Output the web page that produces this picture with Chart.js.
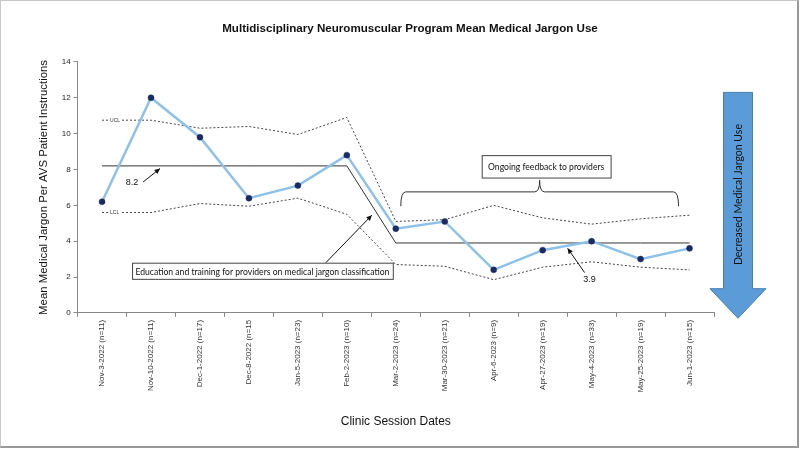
<!DOCTYPE html>
<html lang="en">
<head>
    <meta charset="UTF-8">
    <title>Mean Medical Jargon Use</title>
    <script src="https://cdn.jsdelivr.net/npm/chart.js"></script>
    <style>
        html, body { margin: 0; padding: 0; background: #fff; }
        .wrap { width: 800px; height: 450px; position: relative; }
        canvas { position: absolute; left: 0; top: 0; }
        .frame { position: absolute; left: 0; top: 0; width: 796px; height: 445px;
                 border: 1px solid #c8c8c8; border-right: 2px solid #999; border-bottom: 2px solid #999;
                 pointer-events: none; }
    </style>
</head>
<body>
<div class="wrap">
    <canvas id="jargonChart" width="800" height="450"></canvas>
    <div class="frame"></div>
</div>

<script>
    const sessionDates = [
        "Nov-3-2022 (n=11)", "Nov-10-2022 (n=11)", "Dec-1-2022 (n=17)", "Dec-8-2022 (n=15",
        "Jan-5-2023 (n=23)", "Feb-2-2023 (n=10)", "Mar-2-2023 (n=24)", "Mar-30-2023 (n=21)",
        "Apr-6-2023 (n=9)", "Apr-27-2023 (n=19)", "May-4-2023 (n=33)", "May-25-2023 (n=19)",
        "Jun-1-2023 (n=15)"
    ];
    const meanJargon = [6.2, 12.0, 9.8, 6.4, 7.1, 8.8, 4.7, 5.1, 2.4, 3.5, 4.0, 3.0, 3.6];
    const centerLine = [8.2, 8.2, 8.2, 8.2, 8.2, 8.2, 3.9, 3.9, 3.9, 3.9, 3.9, 3.9, 3.9];
    const upperLimit = [10.75, 10.75, 10.3, 10.4, 9.95, 10.9, 5.1, 5.2, 6.0, 5.3, 4.95, 5.25, 5.45];
    const lowerLimit = [5.6, 5.6, 6.1, 5.95, 6.4, 5.5, 2.7, 2.6, 1.85, 2.55, 2.85, 2.55, 2.4];
    const yTicks = [0, 2, 4, 6, 8, 10, 12, 14];

    // arrow helper for the callouts
    function arrowLine(ctx, x1, y1, x2, y2) {
        ctx.beginPath();
        ctx.moveTo(x1, y1);
        ctx.lineTo(x2, y2);
        ctx.stroke();
        const a = Math.atan2(y2 - y1, x2 - x1);
        ctx.beginPath();
        ctx.moveTo(x2, y2);
        ctx.lineTo(x2 - 6 * Math.cos(a - 0.45), y2 - 6 * Math.sin(a - 0.45));
        ctx.lineTo(x2 - 6 * Math.cos(a + 0.45), y2 - 6 * Math.sin(a + 0.45));
        ctx.closePath();
        ctx.fill();
    }

    const notesPlugin = {
        id: "notes",
        afterDatasetsDraw(chart) {
            const ctx = chart.ctx;
            const xs = chart.scales.x, ys = chart.scales.y;
            const px = i => xs.getPixelForValue(i);
            const py = v => ys.getPixelForValue(v);
            ctx.save();

            // UCL / LCL tags
            ctx.font = "5px 'Liberation Sans', Arial";
            ctx.textBaseline = "middle";
            ctx.textAlign = "left";
            [["UCL", upperLimit[0]], ["LCL", lowerLimit[0]]].forEach(([t, v]) => {
                ctx.fillStyle = "#fff";
                ctx.fillRect(px(0) + 6, py(v) - 3, 14, 6);
                ctx.fillStyle = "#333";
                ctx.fillText(t, px(0) + 8, py(v));
            });

            ctx.strokeStyle = "#111";
            ctx.fillStyle = "#111";
            ctx.lineWidth = 1;

            // 8.2 callout
            ctx.font = "9px 'Liberation Sans', Arial";
            ctx.textAlign = "center";
            ctx.fillText("8.2", px(0) + 30, py(7.25));
            arrowLine(ctx, px(0) + 41, py(7.3), px(1) + 9, py(8.05));

            // 3.9 callout
            ctx.fillText("3.9", px(10) - 2, py(1.85));
            arrowLine(ctx, px(10) - 7, py(2.25), px(10) - 24, py(3.6));

            // education box
            ctx.font = "8.6px Lato, 'Open Sans', sans-serif";
            let bx1 = px(0) + 30, bx2 = px(6) - 3, by1 = py(2.8), by2 = py(1.9);
            ctx.fillStyle = "#fff";
            ctx.fillRect(bx1, by1, bx2 - bx1, by2 - by1);
            ctx.strokeStyle = "#444";
            ctx.strokeRect(bx1 + 0.5, by1 + 0.5, bx2 - bx1, by2 - by1);
            ctx.fillStyle = "#111";
            ctx.fillText("Education and training for providers on medical jargon classification", (bx1 + bx2) / 2, (by1 + by2) / 2 + 1);
            ctx.strokeStyle = "#111";
            arrowLine(ctx, px(5) - 21, by1, px(5) + 25, py(5.45));

            // ongoing feedback box + brace
            bx1 = px(8) - 12; bx2 = px(10) + 19; by1 = py(8.8); by2 = py(7.55);
            ctx.fillStyle = "#fff";
            ctx.fillRect(bx1, by1, bx2 - bx1, by2 - by1);
            ctx.strokeStyle = "#444";
            ctx.strokeRect(bx1 + 0.5, by1 + 0.5, bx2 - bx1, by2 - by1);
            ctx.fillStyle = "#111";
            ctx.fillText("Ongoing feedback to providers", (bx1 + bx2) / 2, (by1 + by2) / 2 + 1);

            const L = px(6) + 5, R = px(12) - 11, M = px(9) - 3;
            const yEnd = py(5.95), yMid = py(6.75), yTip = py(7.4);
            ctx.strokeStyle = "#333";
            ctx.beginPath();
            ctx.moveTo(L, yEnd);
            ctx.quadraticCurveTo(L, yMid, L + 5, yMid);
            ctx.lineTo(M - 5, yMid);
            ctx.quadraticCurveTo(M, yMid, M, yTip);
            ctx.quadraticCurveTo(M, yMid, M + 5, yMid);
            ctx.lineTo(R - 5, yMid);
            ctx.quadraticCurveTo(R, yMid, R, yEnd);
            ctx.stroke();

            // big down arrow on the right
            const cx = chart.chartArea.right + 24;
            const top = py(12.3), headY = py(1.35), tip = py(-0.3);
            ctx.fillStyle = "#5b9bd7";
            ctx.strokeStyle = "#4a7fb4";
            ctx.beginPath();
            ctx.moveTo(cx - 14.5, top);
            ctx.lineTo(cx + 14.5, top);
            ctx.lineTo(cx + 14.5, headY);
            ctx.lineTo(cx + 28, headY);
            ctx.lineTo(cx, tip);
            ctx.lineTo(cx - 28, headY);
            ctx.lineTo(cx - 14.5, headY);
            ctx.closePath();
            ctx.fill();
            ctx.stroke();
            ctx.translate(cx + 1, py(6.6));
            ctx.rotate(-Math.PI / 2);
            ctx.fillStyle = "#111";
            ctx.font = "10.5px Lato, 'Open Sans', sans-serif";
            ctx.fillText("Decreased Medical Jargon Use", 0, 0);

            ctx.restore();
        }
    };

    const ctx = document.getElementById("jargonChart").getContext("2d");
    new Chart(ctx, {
        type: "line",
        data: {
            labels: sessionDates,
            datasets: [
                {
                    label: "Mean",
                    data: meanJargon,
                    borderColor: "#8cc1ea",
                    borderWidth: 2.5,
                    pointBackgroundColor: "#1c2a63",
                    pointBorderColor: "#1c2a63",
                    pointRadius: 3,
                    pointBorderWidth: 0.5,
                    tension: 0,
                    order: 0
                },
                {
                    label: "Center",
                    data: centerLine,
                    borderColor: "#333",
                    borderWidth: 1,
                    pointRadius: 0,
                    order: 1
                },
                {
                    label: "UCL",
                    data: upperLimit,
                    borderColor: "#444",
                    borderWidth: 1,
                    borderDash: [2, 2],
                    pointRadius: 0,
                    order: 2
                },
                {
                    label: "LCL",
                    data: lowerLimit,
                    borderColor: "#444",
                    borderWidth: 1,
                    borderDash: [2, 2],
                    pointRadius: 0,
                    order: 3
                }
            ]
        },
        options: {
            responsive: false,
            animation: false,
            layout: { padding: { left: 37, right: 17, top: 0, bottom: 0 } },
            plugins: {
                legend: { display: false },
                tooltip: { enabled: false },
                title: {
                    display: true,
                    text: "Multidisciplinary Neuromuscular Program Mean Medical Jargon Use",
                    color: "#111",
                    font: { family: "'Liberation Sans', Arial", size: 11.6, weight: "bold" },
                    padding: { top: 22, bottom: 26 }
                }
            },
            scales: {
                x: {
                    offset: true,
                    grid: { offset: true, drawOnChartArea: false, drawTicks: true, tickLength: 4, color: "#888" },
                    border: { color: "#888" },
                    ticks: {
                        maxRotation: 90, minRotation: 90, autoSkip: false,
                        color: "#333",
                        font: { family: "'Liberation Sans', Arial", size: 8 }
                    },
                    title: {
                        display: true,
                        text: "Clinic Session Dates",
                        color: "#111",
                        font: { family: "'Liberation Sans', Arial", size: 12 },
                        padding: { top: 19, bottom: 21 }
                    }
                },
                y: {
                    min: 0, max: 14,
                    afterBuildTicks: axis => { axis.ticks = yTicks.map(v => ({ value: v })); },
                    grid: { drawOnChartArea: false, drawTicks: true, tickLength: 4, color: "#888" },
                    border: { color: "#888" },
                    ticks: { color: "#222", font: { family: "'Liberation Sans', Arial", size: 8 } },
                    title: {
                        display: true,
                        text: "Mean Medical Jargon Per AVS Patient Instructions",
                        color: "#111",
                        font: { family: "'Liberation Sans', Arial", size: 11.4 },
                        padding: { top: 0, bottom: 8 }
                    }
                },
                // empty right axis that keeps room for the big arrow
                yRoom: {
                    position: "right",
                    display: true,
                    grid: { display: false },
                    border: { display: false },
                    ticks: { display: false },
                    afterFit: axis => { axis.width = 69; }
                }
            }
        },
        plugins: [notesPlugin]
    });
</script>
</body>
</html>
